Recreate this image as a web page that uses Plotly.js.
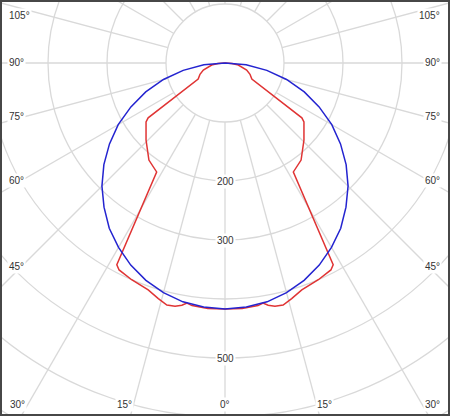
<!DOCTYPE html>
<html><head><meta charset="utf-8">
<script src="https://cdn.plot.ly/plotly-3.0.1.min.js"></script>
<style>
html,body{margin:0;padding:0;background:#fff;}
#frame{position:relative;width:450px;height:416px;overflow:hidden;background:#fff;}
#chart{position:absolute;}
#border{position:absolute;left:0;top:0;width:450px;height:416px;box-sizing:border-box;border:2px solid #474747;pointer-events:none;}
</style></head><body>
<div id="frame"><div id="chart"></div><div id="border"></div></div>
<script>
// ---- data (one half; the distribution is symmetric) ----
const redAngles = [0, 4, 7.75, 9, 10.1, 11.6, 13.5, 15.8, 18.7, 23.3, 27.1, 28.2, 32.1, 38.1, 45.7, 53.25, 54.5, 59.1, 65.7, 72.1, 81.4, 86, 90];
const redValues = [417, 417, 415, 412, 417, 421, 422, 415, 406, 400, 394, 388, 218, 209, 187, 167, 160, 53, 46.5, 38.6, 22.8, 12, 0];
const blueAngles = [0, 5, 10, 15, 20, 25, 30, 35, 40, 45, 50, 55, 60, 65, 70, 75, 80, 85, 90];
const blueValues = [417, 415, 411, 403, 392, 378, 361, 342, 319, 295, 268, 239, 209, 176, 143, 108, 72, 36, 0];
const gridRadii = [100, 200, 300, 400, 500, 600, 700];
const radialLabelValues = [200, 300, 500];
const spokeAngles = [0, 15, 30, 45, 60, 75, 90, 105, 120, 135, 150, 165, 180, 195, 210, 225, 240, 255, 270, 285, 300, 315, 330, 345];
const angleLabelTexts = ['105°', '90°', '75°', '60°', '45°', '30°', '15°', '0°', '15°', '30°', '45°', '60°', '75°', '90°', '105°'];

// ---- geometry of the visible window ----
const pxPerUnit = 0.59;
const cx = 225, cy = 63;           // centre of the diagram in the window
const W = 850;                      // size of the full polar canvas
const R = (W / 2) / pxPerUnit;      // radial range
const offL = cx - W / 2, offT = cy - W / 2;
const chart = document.getElementById('chart');
chart.style.left = offL + 'px'; chart.style.top = offT + 'px';
chart.style.width = W + 'px'; chart.style.height = W + 'px';

function mirror(angles, values) {
  const th = angles.slice(1).reverse().map(a => -a).concat(angles);
  const r = values.slice(1).reverse().concat(values);
  return {th, r};
}
const red = mirror(redAngles, redValues);
const blue = mirror(blueAngles, blueValues);

const spokeR = [], spokeT = [];
spokeAngles.forEach(a => { spokeR.push(gridRadii[0], R, null); spokeT.push(a, a, null); });

const gridColor = '#d9d9d9';
const traces = [
  {type: 'scatterpolar', mode: 'lines', r: spokeR, theta: spokeT, line: {color: gridColor, width: 1.3}, hoverinfo: 'skip', connectgaps: false},
  {type: 'scatterpolar', mode: 'lines', r: red.r, theta: red.th, line: {color: '#e03434', width: 1.5}, name: 'C0-C180'},
  {type: 'scatterpolar', mode: 'lines', r: blue.r, theta: blue.th, line: {color: '#2424d0', width: 1.5}, name: 'ref'}
];

// label pixel positions within the 450x416 window
const labelPos = [
  [6.5, 15, 'left'], [6.5, 62.5, 'left'], [6.5, 117, 'left'], [6.5, 180, 'left'], [6.5, 266, 'left'], [8, 404, 'left'],
  [124, 404, 'center'], [224.5, 404, 'center'], [324.5, 404, 'center'],
  [441.5, 404, 'right'], [441.5, 266, 'right'], [441.5, 180, 'right'], [441.5, 117, 'right'], [441.5, 62.5, 'right'], [441.5, 15, 'right']
];
const labelFont = {family: 'Liberation Sans, Arial, sans-serif', size: 10, color: '#333'};
const annotations = [];
angleLabelTexts.forEach((t, i) => {
  const p = labelPos[i];
  annotations.push({xref: 'paper', yref: 'paper', x: (p[0] - offL) / W, y: 1 - (p[1] - offT) / W,
    text: t, showarrow: false, xanchor: p[2], yanchor: 'middle', font: labelFont, bgcolor: '#fff', borderpad: 1});
});
radialLabelValues.forEach(v => {
  annotations.push({xref: 'paper', yref: 'paper', x: 0.5, y: 0.5 - v / (2 * R),
    text: String(v), showarrow: false, xanchor: 'center', yanchor: 'middle', font: labelFont, bgcolor: '#fff', borderpad: 1});
});

const layout = {
  width: W, height: W, margin: {l: 0, r: 0, t: 0, b: 0},
  paper_bgcolor: '#fff', showlegend: false,
  polar: {
    domain: {x: [0, 1], y: [0, 1]}, bgcolor: '#fff',
    radialaxis: {range: [0, R], tickvals: gridRadii, showticklabels: false, ticks: '', showline: false, gridcolor: gridColor, gridwidth: 1.3},
    angularaxis: {rotation: -90, direction: 'counterclockwise', showgrid: false, showline: false, showticklabels: false, ticks: ''}
  },
  annotations: annotations
};
Plotly.newPlot(chart, traces, layout, {staticPlot: true, displayModeBar: false});
</script>
</body></html>
